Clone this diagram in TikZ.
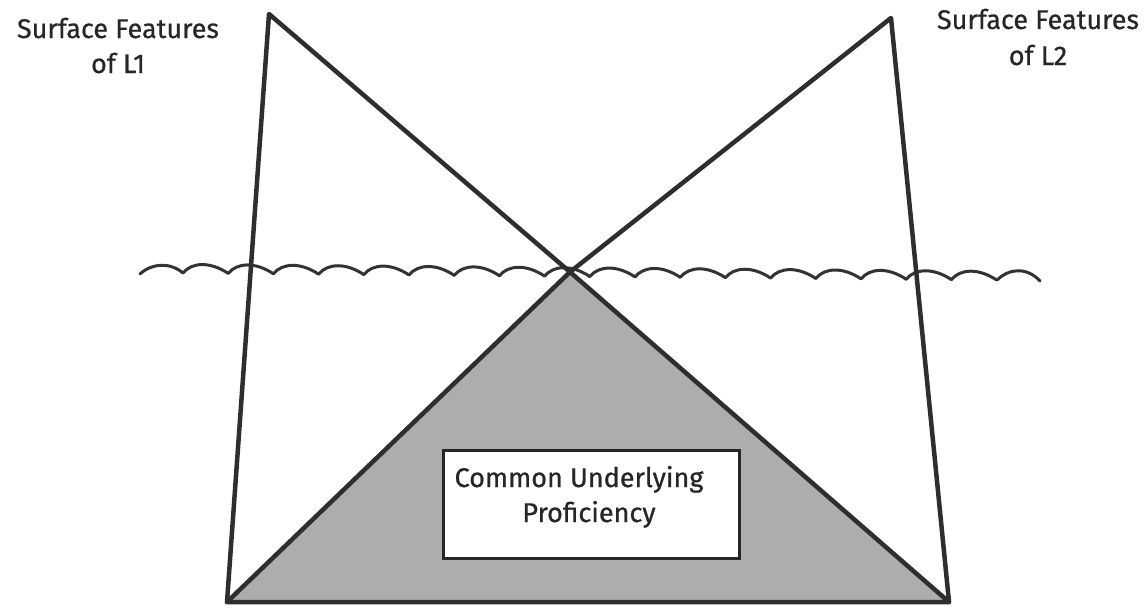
\documentclass[tikz,border=0pt]{standalone}
\usepackage{fontspec}
\newfontfamily\labfont{Fira Sans}[FakeBold=0.7]
\tikzset{
  heavy/.style={draw=black!82, line width=4.5pt, line join=round, line cap=round},
  wave/.style={draw=black!80, line width=3pt, line cap=round, line join=round},
  shade/.style={fill=black!32},
  lab/.style={font=\labfont\fontsize{27}{32}\selectfont, text=black!85, inner sep=0pt, anchor=base},
  cupbox/.style={draw=black!85, fill=white, line width=3pt, inner sep=0pt, minimum width=296pt, minimum height=108pt}
}
\begin{document}
\begin{tikzpicture}[x=1pt,y=-1pt]
\useasboundingbox (0,0) rectangle (1147,610);
\coordinate (LT) at (269,14);
\coordinate (RT) at (891,18);
\coordinate (X) at (570,272);
\coordinate (LB) at (227,602);
\coordinate (RB) at (949,602);
% shaded triangle
\fill[shade] (X) -- (LB) -- (RB) -- cycle;
% wavy surface line
\coordinate (W0) at (140,274);
\coordinate (W1) at (183,273);
\draw[wave] (W0) .. controls (152,263) and (170,262) .. (W1);
\foreach \k [evaluate=\k as \xa using 183+45.2*\k,
             evaluate=\k as \xb using 183+45.2*(\k+1),
             evaluate=\k as \ya using 273+0.0086*45.2*\k,
             evaluate=\k as \yb using 273+0.0086*45.2*(\k+1)] in {0,...,17}
  \draw[wave] (\xa,\ya) .. controls ({\xa+9},{\ya-11}) and ({\xb-18},{\yb-12}) .. (\xb,\yb);
\coordinate (WE) at (1040,281);
\draw[wave] (997,280) .. controls (1008,269) and (1026,266) .. (WE);
% outline
\draw[heavy] (LT) -- (X) -- (RT) -- (RB) -- (LB) -- cycle;
\draw[heavy] (LB) -- (X) -- (RB);
% box
\node[cupbox] (box) at (591,504) {};
\node[lab] (c1) at (579,487) {Common Underlying};
\node[lab] (c2) at (589,522) {Proficiency};
% labels
\node[lab] (l1a) at (118,38) {Surface Features};
\node[lab] (l1b) at (118,73) {of L1};
\node[lab] (l2a) at (1038,29) {Surface Features};
\node[lab] (l2b) at (1038,65) {of L2};
\end{tikzpicture}
\end{document}
